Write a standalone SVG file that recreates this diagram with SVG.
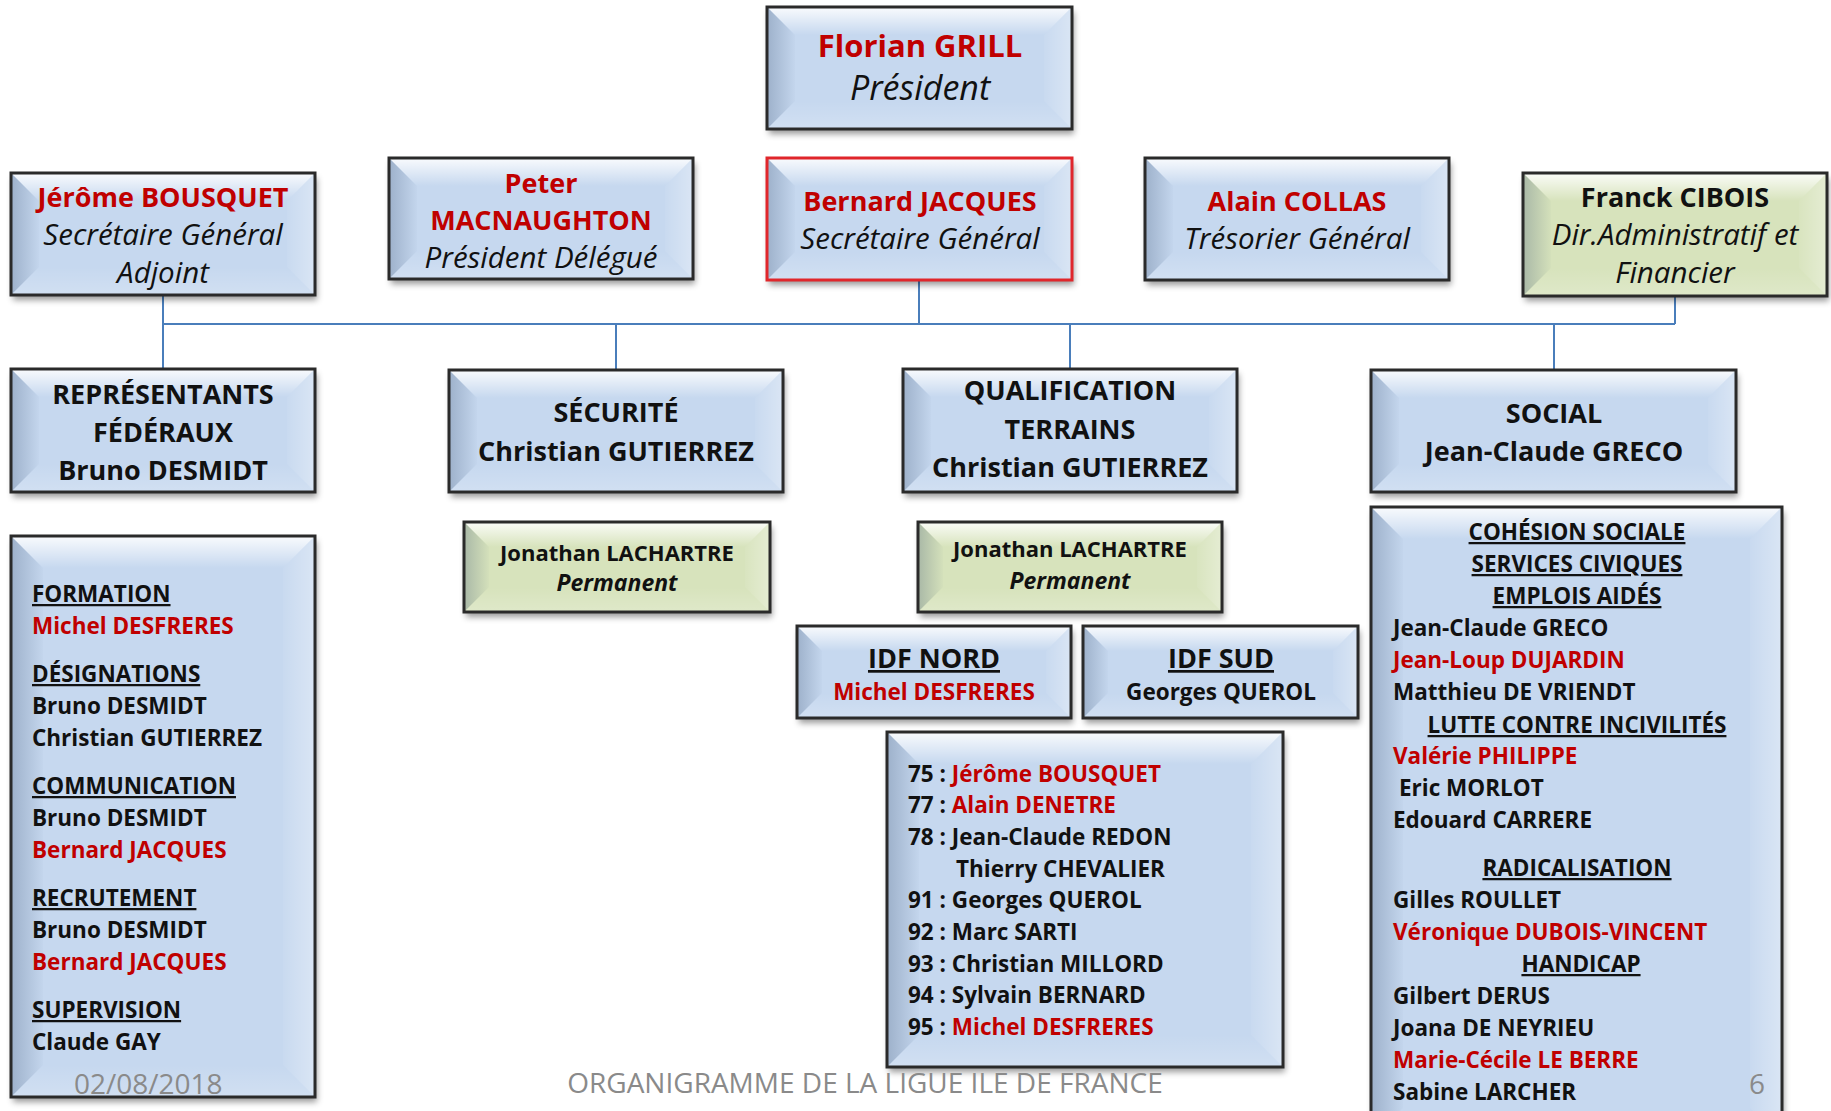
<svg xmlns="http://www.w3.org/2000/svg" width="1831" height="1111" viewBox="0 0 1831 1111">
<defs>
<style>
text{font-family:"Open Sans","Liberation Sans",sans-serif;font-weight:bold;fill:#111}
.c{text-anchor:middle}
.i{font-style:italic;font-weight:normal}
.bi{font-style:italic}
.r{fill:#c00000}
.u{text-decoration:underline}
.t1{font-size:31px}
.t1.i{font-size:34px}
.t2{font-size:27px}
.t2.i{font-size:29.5px}
.t3{font-size:27px}
.t4{font-size:22.5px}
.t5{font-size:22px}
.t5.bi{font-size:23px}
.ft{font-weight:normal;fill:#8a8a8a;font-size:28px}
.blue{fill:#c6d8ef}
.green{fill:#d7e3bc}
.bd{fill:none;stroke:#2a2a2a;stroke-width:3}
.bdr{fill:none;stroke:#e0262b;stroke-width:3}
.conn line{stroke:#4a7ebb;stroke-width:2}
</style>
<linearGradient id="gT" x1="0" y1="0" x2="0" y2="1"><stop offset="0" stop-color="#fff" stop-opacity="0.9"/><stop offset="1" stop-color="#fff" stop-opacity="0"/></linearGradient>
<linearGradient id="gL" x1="0" y1="0" x2="1" y2="0"><stop offset="0" stop-color="#3e5575" stop-opacity="0.3"/><stop offset="1" stop-color="#3e5575" stop-opacity="0.02"/></linearGradient>
<linearGradient id="gR" x1="1" y1="0" x2="0" y2="0"><stop offset="0" stop-color="#fff" stop-opacity="0.35"/><stop offset="1" stop-color="#fff" stop-opacity="0.05"/></linearGradient>
<linearGradient id="gB" x1="0" y1="1" x2="0" y2="0"><stop offset="0" stop-color="#fff" stop-opacity="0.2"/><stop offset="1" stop-color="#fff" stop-opacity="0"/></linearGradient>
<filter id="sh" x="-10%" y="-10%" width="120%" height="130%"><feDropShadow dx="2" dy="5" stdDeviation="3" flood-color="#000" flood-opacity="0.4"/></filter>
</defs>
<rect width="1831" height="1111" fill="#fff"/>

<g id="connectors" class="conn">
<line x1="163" y1="324" x2="1675" y2="324"/>
<line x1="163" y1="295" x2="163" y2="369"/>
<line x1="919" y1="280" x2="919" y2="324"/>
<line x1="1675" y1="282" x2="1675" y2="324"/>
<line x1="616" y1="324" x2="616" y2="370"/>
<line x1="1070" y1="324" x2="1070" y2="369"/>
<line x1="1554" y1="324" x2="1554" y2="370"/>
</g>

<g id="n-florian">
<rect x="767" y="7" width="305" height="122" class="blue" filter="url(#sh)"/>
<polygon points="767,7 1072,7 1044,35 795,35" fill="url(#gT)"/>
<polygon points="767,7 795,35 795,101 767,129" fill="url(#gL)"/>
<polygon points="1072,7 1072,129 1044,101 1044,35" fill="url(#gR)"/>
<polygon points="767,129 795,101 1044,101 1072,129" fill="url(#gB)"/>
<rect x="767" y="7" width="305" height="122" class="bd"/>
<text x="920" y="57" class="c t1 r">Florian GRILL</text>
<text x="920" y="100" class="c t1 i">Président</text>
</g>

<g id="n-jerome">
<rect x="11" y="173" width="304" height="122" class="blue" filter="url(#sh)"/>
<polygon points="11,173 315,173 287,201 39,201" fill="url(#gT)"/>
<polygon points="11,173 39,201 39,267 11,295" fill="url(#gL)"/>
<polygon points="315,173 315,295 287,267 287,201" fill="url(#gR)"/>
<polygon points="11,295 39,267 287,267 315,295" fill="url(#gB)"/>
<rect x="11" y="173" width="304" height="122" class="bd"/>
<text x="163" y="207" class="c t2 r">Jérôme BOUSQUET</text>
<text x="163" y="245" class="c t2 i">Secrétaire Général</text>
<text x="163" y="283" class="c t2 i">Adjoint</text>
</g>

<g id="n-peter">
<rect x="389" y="158" width="304" height="121" class="blue" filter="url(#sh)"/>
<polygon points="389,158 693,158 665,186 417,186" fill="url(#gT)"/>
<polygon points="389,158 417,186 417,251 389,279" fill="url(#gL)"/>
<polygon points="693,158 693,279 665,251 665,186" fill="url(#gR)"/>
<polygon points="389,279 417,251 665,251 693,279" fill="url(#gB)"/>
<rect x="389" y="158" width="304" height="121" class="bd"/>
<text x="541" y="193" class="c t2 r">Peter</text>
<text x="541" y="230" class="c t2 r">MACNAUGHTON</text>
<text x="541" y="268" class="c t2 i">Président Délégué</text>
</g>

<g id="n-bernard">
<rect x="767" y="158" width="305" height="122" class="blue" filter="url(#sh)"/>
<polygon points="767,158 1072,158 1044,186 795,186" fill="url(#gT)"/>
<polygon points="767,158 795,186 795,252 767,280" fill="url(#gL)"/>
<polygon points="1072,158 1072,280 1044,252 1044,186" fill="url(#gR)"/>
<polygon points="767,280 795,252 1044,252 1072,280" fill="url(#gB)"/>
<rect x="767" y="158" width="305" height="122" class="bdr"/>
<text x="920" y="211" class="c t2 r">Bernard JACQUES</text>
<text x="920" y="249" class="c t2 i">Secrétaire Général</text>
</g>

<g id="n-alain">
<rect x="1145" y="158" width="304" height="122" class="blue" filter="url(#sh)"/>
<polygon points="1145,158 1449,158 1421,186 1173,186" fill="url(#gT)"/>
<polygon points="1145,158 1173,186 1173,252 1145,280" fill="url(#gL)"/>
<polygon points="1449,158 1449,280 1421,252 1421,186" fill="url(#gR)"/>
<polygon points="1145,280 1173,252 1421,252 1449,280" fill="url(#gB)"/>
<rect x="1145" y="158" width="304" height="122" class="bd"/>
<text x="1297" y="211" class="c t2 r">Alain COLLAS</text>
<text x="1297" y="249" class="c t2 i">Trésorier Général</text>
</g>

<g id="n-franck">
<rect x="1523" y="173" width="304" height="123" class="green" filter="url(#sh)"/>
<polygon points="1523,173 1827,173 1799,201 1551,201" fill="url(#gT)"/>
<polygon points="1523,173 1551,201 1551,268 1523,296" fill="url(#gL)"/>
<polygon points="1827,173 1827,296 1799,268 1799,201" fill="url(#gR)"/>
<polygon points="1523,296 1551,268 1799,268 1827,296" fill="url(#gB)"/>
<rect x="1523" y="173" width="304" height="123" class="bd"/>
<text x="1675" y="207" class="c t2">Franck CIBOIS</text>
<text x="1675" y="245" class="c t2 i">Dir.Administratif et</text>
<text x="1675" y="283" class="c t2 i">Financier</text>
</g>

<g id="n-representants">
<rect x="11" y="369" width="304" height="123" class="blue" filter="url(#sh)"/>
<polygon points="11,369 315,369 287,397 39,397" fill="url(#gT)"/>
<polygon points="11,369 39,397 39,464 11,492" fill="url(#gL)"/>
<polygon points="315,369 315,492 287,464 287,397" fill="url(#gR)"/>
<polygon points="11,492 39,464 287,464 315,492" fill="url(#gB)"/>
<rect x="11" y="369" width="304" height="123" class="bd"/>
<text x="163" y="404" class="c t3">REPRÉSENTANTS</text>
<text x="163" y="442" class="c t3">FÉDÉRAUX</text>
<text x="163" y="480" class="c t3">Bruno DESMIDT</text>
</g>

<g id="n-securite">
<rect x="449" y="370" width="334" height="122" class="blue" filter="url(#sh)"/>
<polygon points="449,370 783,370 755,398 477,398" fill="url(#gT)"/>
<polygon points="449,370 477,398 477,464 449,492" fill="url(#gL)"/>
<polygon points="783,370 783,492 755,464 755,398" fill="url(#gR)"/>
<polygon points="449,492 477,464 755,464 783,492" fill="url(#gB)"/>
<rect x="449" y="370" width="334" height="122" class="bd"/>
<text x="616" y="422" class="c t3">SÉCURITÉ</text>
<text x="616" y="461" class="c t3">Christian GUTIERREZ</text>
</g>

<g id="n-qualification">
<rect x="903" y="369" width="334" height="123" class="blue" filter="url(#sh)"/>
<polygon points="903,369 1237,369 1209,397 931,397" fill="url(#gT)"/>
<polygon points="903,369 931,397 931,464 903,492" fill="url(#gL)"/>
<polygon points="1237,369 1237,492 1209,464 1209,397" fill="url(#gR)"/>
<polygon points="903,492 931,464 1209,464 1237,492" fill="url(#gB)"/>
<rect x="903" y="369" width="334" height="123" class="bd"/>
<text x="1070" y="400" class="c t3">QUALIFICATION</text>
<text x="1070" y="439" class="c t3">TERRAINS</text>
<text x="1070" y="477" class="c t3">Christian GUTIERREZ</text>
</g>

<g id="n-social">
<rect x="1371" y="370" width="365" height="122" class="blue" filter="url(#sh)"/>
<polygon points="1371,370 1736,370 1708,398 1399,398" fill="url(#gT)"/>
<polygon points="1371,370 1399,398 1399,464 1371,492" fill="url(#gL)"/>
<polygon points="1736,370 1736,492 1708,464 1708,398" fill="url(#gR)"/>
<polygon points="1371,492 1399,464 1708,464 1736,492" fill="url(#gB)"/>
<rect x="1371" y="370" width="365" height="122" class="bd"/>
<text x="1554" y="423" class="c t3">SOCIAL</text>
<text x="1554" y="461" class="c t3">Jean-Claude GRECO</text>
</g>

<g id="n-jonathan1">
<rect x="464" y="522" width="306" height="90" class="green" filter="url(#sh)"/>
<polygon points="464,522 770,522 745,547 489,547" fill="url(#gT)"/>
<polygon points="464,522 489,547 489,587 464,612" fill="url(#gL)"/>
<polygon points="770,522 770,612 745,587 745,547" fill="url(#gR)"/>
<polygon points="464,612 489,587 745,587 770,612" fill="url(#gB)"/>
<rect x="464" y="522" width="306" height="90" class="bd"/>
<text x="617" y="561" class="c t5">Jonathan LACHARTRE</text>
<text x="617" y="591" class="c t5 bi">Permanent</text>
</g>

<g id="n-jonathan2">
<rect x="918" y="522" width="304" height="90" class="green" filter="url(#sh)"/>
<polygon points="918,522 1222,522 1197,547 943,547" fill="url(#gT)"/>
<polygon points="918,522 943,547 943,587 918,612" fill="url(#gL)"/>
<polygon points="1222,522 1222,612 1197,587 1197,547" fill="url(#gR)"/>
<polygon points="918,612 943,587 1197,587 1222,612" fill="url(#gB)"/>
<rect x="918" y="522" width="304" height="90" class="bd"/>
<text x="1070" y="557" class="c t5">Jonathan LACHARTRE</text>
<text x="1070" y="589" class="c t5 bi">Permanent</text>
</g>

<g id="n-commissions">
<rect x="11" y="536" width="304" height="561" class="blue" filter="url(#sh)"/>
<polygon points="11,536 315,536 283,568 43,568" fill="url(#gT)"/>
<polygon points="11,536 43,568 43,1065 11,1097" fill="url(#gL)"/>
<polygon points="315,536 315,1097 283,1065 283,568" fill="url(#gR)"/>
<polygon points="11,1097 43,1065 283,1065 315,1097" fill="url(#gB)"/>
<rect x="11" y="536" width="304" height="561" class="bd"/>
<text x="32" y="602" class="t4 u">FORMATION</text>
<text x="32" y="634" class="t4 r">Michel DESFRERES</text>
<text x="32" y="682" class="t4 u">DÉSIGNATIONS</text>
<text x="32" y="714" class="t4">Bruno DESMIDT</text>
<text x="32" y="746" class="t4">Christian GUTIERREZ</text>
<text x="32" y="794" class="t4 u">COMMUNICATION</text>
<text x="32" y="826" class="t4">Bruno DESMIDT</text>
<text x="32" y="858" class="t4 r">Bernard JACQUES</text>
<text x="32" y="906" class="t4 u">RECRUTEMENT</text>
<text x="32" y="938" class="t4">Bruno DESMIDT</text>
<text x="32" y="970" class="t4 r">Bernard JACQUES</text>
<text x="32" y="1018" class="t4 u">SUPERVISION</text>
<text x="32" y="1050" class="t4">Claude GAY</text>
</g>

<g id="n-idfnord">
<rect x="797" y="626" width="274" height="92" class="blue" filter="url(#sh)"/>
<polygon points="797,626 1071,626 1046,651 822,651" fill="url(#gT)"/>
<polygon points="797,626 822,651 822,693 797,718" fill="url(#gL)"/>
<polygon points="1071,626 1071,718 1046,693 1046,651" fill="url(#gR)"/>
<polygon points="797,718 822,693 1046,693 1071,718" fill="url(#gB)"/>
<rect x="797" y="626" width="274" height="92" class="bd"/>
<text x="934" y="668" class="c t3 u">IDF NORD</text>
<text x="934" y="700" class="c t4 r">Michel DESFRERES</text>
</g>

<g id="n-idfsud">
<rect x="1083" y="626" width="275" height="92" class="blue" filter="url(#sh)"/>
<polygon points="1083,626 1358,626 1333,651 1108,651" fill="url(#gT)"/>
<polygon points="1083,626 1108,651 1108,693 1083,718" fill="url(#gL)"/>
<polygon points="1358,626 1358,718 1333,693 1333,651" fill="url(#gR)"/>
<polygon points="1083,718 1108,693 1333,693 1358,718" fill="url(#gB)"/>
<rect x="1083" y="626" width="275" height="92" class="bd"/>
<text x="1221" y="668" class="c t3 u">IDF SUD</text>
<text x="1221" y="700" class="c t4">Georges QUEROL</text>
</g>

<g id="n-departements">
<rect x="887" y="732" width="396" height="335" class="blue" filter="url(#sh)"/>
<polygon points="887,732 1283,732 1251,764 919,764" fill="url(#gT)"/>
<polygon points="887,732 919,764 919,1035 887,1067" fill="url(#gL)"/>
<polygon points="1283,732 1283,1067 1251,1035 1251,764" fill="url(#gR)"/>
<polygon points="887,1067 919,1035 1251,1035 1283,1067" fill="url(#gB)"/>
<rect x="887" y="732" width="396" height="335" class="bd"/>
<text x="908" y="782" class="t4">75 : <tspan class="r">Jérôme BOUSQUET</tspan></text>
<text x="908" y="813" class="t4">77 : <tspan class="r">Alain DENETRE</tspan></text>
<text x="908" y="845" class="t4">78 : Jean-Claude REDON</text>
<text x="956" y="877" class="t4">Thierry CHEVALIER</text>
<text x="908" y="908" class="t4">91 : Georges QUEROL</text>
<text x="908" y="940" class="t4">92 : Marc SARTI</text>
<text x="908" y="972" class="t4">93 : Christian MILLORD</text>
<text x="908" y="1003" class="t4">94 : Sylvain BERNARD</text>
<text x="908" y="1035" class="t4">95 : <tspan class="r">Michel DESFRERES</tspan></text>
</g>

<g id="n-cohesion">
<rect x="1371" y="507" width="411" height="633" class="blue" filter="url(#sh)"/>
<polygon points="1371,507 1782,507 1750,539 1403,539" fill="url(#gT)"/>
<polygon points="1371,507 1403,539 1403,1108 1371,1140" fill="url(#gL)"/>
<polygon points="1782,507 1782,1140 1750,1108 1750,539" fill="url(#gR)"/>
<rect x="1371" y="507" width="411" height="633" class="bd"/>
<text x="1577" y="540" class="c t4 u">COHÉSION SOCIALE</text>
<text x="1577" y="572" class="c t4 u">SERVICES CIVIQUES</text>
<text x="1577" y="604" class="c t4 u">EMPLOIS AIDÉS</text>
<text x="1393" y="636" class="t4">Jean-Claude GRECO</text>
<text x="1393" y="668" class="t4 r">Jean-Loup DUJARDIN</text>
<text x="1393" y="700" class="t4">Matthieu DE VRIENDT</text>
<text x="1577" y="733" class="c t4 u">LUTTE CONTRE INCIVILITÉS</text>
<text x="1393" y="764" class="t4 r">Valérie PHILIPPE</text>
<text x="1399" y="796" class="t4">Eric MORLOT</text>
<text x="1393" y="828" class="t4">Edouard CARRERE</text>
<text x="1577" y="876" class="c t4 u">RADICALISATION</text>
<text x="1393" y="908" class="t4">Gilles ROULLET</text>
<text x="1393" y="940" class="t4 r">Véronique DUBOIS-VINCENT</text>
<text x="1581" y="972" class="c t4 u">HANDICAP</text>
<text x="1393" y="1004" class="t4">Gilbert DERUS</text>
<text x="1393" y="1036" class="t4">Joana DE NEYRIEU</text>
<text x="1393" y="1068" class="t4 r">Marie-Cécile LE BERRE</text>
<text x="1393" y="1100" class="t4">Sabine LARCHER</text>
</g>

<g id="footer">
<text x="74" y="1094" class="ft">02/08/2018</text>
<text x="865" y="1093" class="c ft">ORGANIGRAMME DE LA LIGUE ILE DE FRANCE</text>
<text x="1749" y="1094" class="ft">6</text>
</g>
</svg>
